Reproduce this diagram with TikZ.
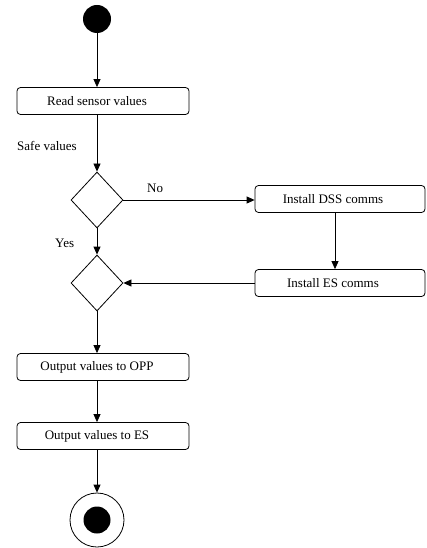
\documentclass[tikz,border=0pt]{standalone}
\usepackage{fontspec}
\setmainfont{Liberation Serif}
\usetikzlibrary{shapes.geometric,arrows.meta}
\begin{document}
\begin{tikzpicture}[x=1pt,y=-1pt,
  every node/.style={font=\fontsize{13}{15}\selectfont},
  actbox/.style={draw, rounded corners=3.5pt, line width=0.8pt, minimum height=27pt, inner sep=0pt},
  decide/.style={draw, diamond, line width=0.8pt, minimum width=52pt, minimum height=56pt, inner sep=0pt},
  arr/.style={line width=0.8pt, -{Triangle[length=8pt,width=7pt]}},
  lbl/.style={inner sep=0pt, anchor=west}]
\useasboundingbox (0,0) rectangle (427,548);
\node[circle, fill=black, minimum size=28pt, inner sep=0pt] (start) at (97,19) {};
\node[actbox, minimum width=172pt] (read) at (103,101) {\hspace*{-12pt}Read sensor values};
\node[decide] (d1) at (97,200) {};
\node[actbox, minimum width=170pt] (dss) at (340,199) {\hspace*{-14pt}Install DSS comms};
\node[actbox, minimum width=170pt] (ies) at (340,283) {\hspace*{-14pt}Install ES comms};
\node[decide] (d2) at (97,283) {};
\node[actbox, minimum width=172pt] (opp) at (103,367) {\hspace*{-12pt}Output values to OPP};
\node[actbox, minimum width=172pt] (oes) at (103,436) {\hspace*{-12pt}Output values to ES};
\node[circle, draw, line width=0.8pt, minimum size=54pt, inner sep=0pt] (final) at (97,520) {};
\node[circle, fill=black, minimum size=27pt, inner sep=0pt] (finalin) at (final) {};
\node[lbl] (safe) at (17,146) {Safe values};
\node[lbl] (no) at (147,188) {No};
\node[lbl] (yes) at (55,243) {Yes};
\draw[arr] (start) -- (start |- read.north);
\draw[arr] (read.south -| d1) -- (d1.north);
\draw[arr] (d1.east) -- (dss.west |- d1.east);
\draw[arr] (dss.south -| 335,0) -- (ies.north -| 335,0);
\draw[arr] (ies.west) -- (d2.east);
\draw[arr] (d1.south) -- (d2.north);
\draw[arr] (d2.south) -- (d2.south |- opp.north);
\draw[arr] (opp.south -| final) -- (oes.north -| final);
\draw[arr] (oes.south -| final) -- (final.north);
\end{tikzpicture}
\end{document}
